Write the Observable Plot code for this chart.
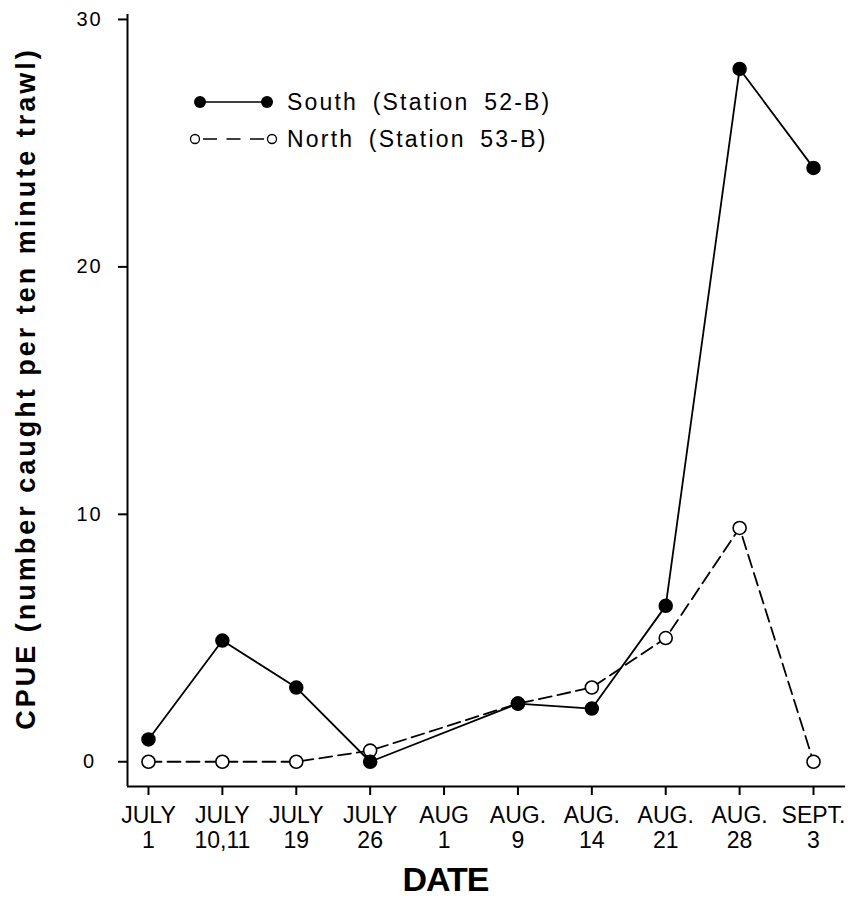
<!DOCTYPE html>
<html><head><meta charset="utf-8">
<script src="https://cdn.jsdelivr.net/npm/d3@7"></script>
<script src="https://cdn.jsdelivr.net/npm/@observablehq/plot@0.6"></script>
<style>
html,body{margin:0;padding:0;background:#fff;}
#chart{position:relative;width:848px;height:898px;}
</style></head><body><div id="chart"></div>
<script>
// ---- data ----
const dateLabels = ["JULY\n1","JULY\n10,11","JULY\n19","JULY\n26","AUG\n1","AUG.\n9","AUG.\n14","AUG.\n21","AUG.\n28","SEPT.\n3"];
const southValues = [0.9, 4.9, 3.0, 0, null, 2.35, 2.15, 6.3, 28.0, 24.0];
const northValues = [0, 0, 0, 0.45, null, 2.35, 3.0, 5.0, 9.45, 0];
const yTicks = [0, 10, 20, 30];
const yTitle = "CPUE (number caught per ten minute trawl)";
const xTitle = "DATE";
const legendLabels = ["South (Station 52-B)", "North (Station 53-B)"];

// ---- build rows (skip dates without a sample) ----
const toRows = (vals, series) => vals.map((v, i) => ({i, v, series})).filter(d => d.v != null);
const south = toRows(southValues, "South");
const north = toRows(northValues, "North");

const font = '"Liberation Sans", Arial, sans-serif';
const xDomain = [-0.284, 9.433];
const yDomain = [-1, 30.2];

const plot = Plot.plot({
  width: 848, height: 898,
  marginLeft: 127, marginRight: 3, marginTop: 14, marginBottom: 112,
  style: {fontFamily: font, background: "#fff", color: "#000", overflow: "visible"},
  x: {type: "linear", domain: xDomain},
  y: {type: "linear", domain: yDomain},
  marks: [
    Plot.ruleX([xDomain[0]], {stroke: "#000", strokeWidth: 2}),
    Plot.ruleY([yDomain[0]], {stroke: "#000", strokeWidth: 2}),
    Plot.axisY(yTicks, {tickSize: 9, tickPadding: 29, textAnchor: "middle", fontSize: 20, label: null, strokeWidth: 2}),
    Plot.axisX(d3.range(dateLabels.length), {tickFormat: i => dateLabels[i], tickSize: 9, tickPadding: 10, fontSize: 23, lineHeight: 1.07, label: null, strokeWidth: 2}),
    Plot.line(north, {x: "i", y: "v", stroke: "#000", strokeWidth: 1.8, strokeDasharray: "13,6"}),
    Plot.line(south, {x: "i", y: "v", stroke: "#000", strokeWidth: 1.8}),
    Plot.dot(north, {x: "i", y: "v", r: 6.5, fill: "#fff", stroke: "#000", strokeWidth: 1.6}),
    Plot.dot(south, {x: "i", y: "v", r: 6.5, fill: "#000", stroke: "#000"}),
    Plot.text([yTitle], {frameAnchor: "left", textAnchor: "middle", lineAnchor: "middle", rotate: -90, dx: -101, dy: -12, fontSize: 27, fontWeight: "bold"}),
    Plot.text([xTitle], {frameAnchor: "bottom", lineAnchor: "middle", dx: -41, dy: 94, fontSize: 34, fontWeight: "bold"})
  ]
});

const svg = d3.select(plot);
svg.selectAll("text").each(function() {
  const t = this.textContent;
  if (t === yTitle) this.style.letterSpacing = "3px";
  else if (t === xTitle) this.style.letterSpacing = "-1px";
});
svg.selectAll('g[aria-label="y-axis tick label"] text').style("letter-spacing", "2px");

// ---- legend ----
const lg = svg.append("g").attr("font-family", font).attr("font-size", 23).attr("fill", "#000").attr("text-anchor", "start");
const rows = [
  {label: legendLabels[0], y: 102, filled: true},
  {label: legendLabels[1], y: 139, filled: false}
];
rows.forEach(r => {
  if (r.filled) {
    lg.append("line").attr("x1", 200).attr("x2", 267).attr("y1", r.y).attr("y2", r.y).attr("stroke", "#000").attr("stroke-width", 1.6);
    lg.append("circle").attr("cx", 200).attr("cy", r.y).attr("r", 6).attr("fill", "#000");
    lg.append("circle").attr("cx", 267).attr("cy", r.y).attr("r", 6).attr("fill", "#000");
  } else {
    lg.append("line").attr("x1", 203).attr("x2", 264).attr("y1", r.y).attr("y2", r.y).attr("stroke", "#000").attr("stroke-width", 1.6).attr("stroke-dasharray", "14,9.5");
    lg.append("circle").attr("cx", 195).attr("cy", r.y).attr("r", 4.5).attr("fill", "#fff").attr("stroke", "#000").attr("stroke-width", 1.3);
    lg.append("circle").attr("cx", 272).attr("cy", r.y).attr("r", 4.5).attr("fill", "#fff").attr("stroke", "#000").attr("stroke-width", 1.3);
  }
  lg.append("text").attr("x", 287).attr("y", r.y).attr("dy", "0.35em").attr("text-anchor", "start").style("letter-spacing", "2.2px").style("word-spacing", "6px").text(r.label);
});

document.getElementById("chart").appendChild(plot);
</script>
</body></html>
